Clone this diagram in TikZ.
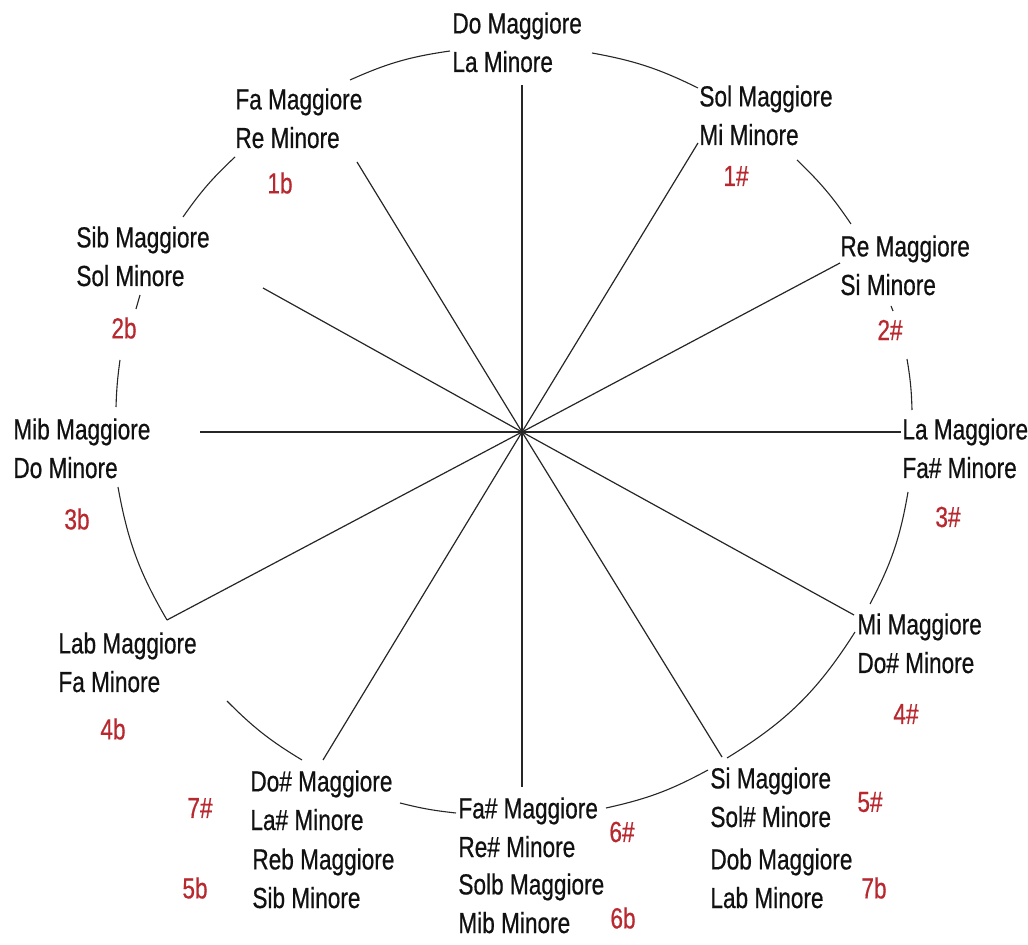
\documentclass[tikz,border=0pt]{standalone}
\usepackage{fontspec}
\setmainfont{Liberation Sans}[FakeStretch=0.78,FakeBold=0.6]
\usepackage{tikz}
\definecolor{keyred}{HTML}{B8282F}
\definecolor{keyink}{HTML}{111111}

\begin{document}
\begin{tikzpicture}[x=0.5pt,y=-0.5pt,font=\fontsize{14.5}{19.3}\selectfont]

\tikzset{
k/.style={anchor=base west,inner sep=0pt,align=left,text=keyink},
n/.style={inner sep=0pt,text=keyred},
s/.style={line width=0.6pt,draw=black!85},
r/.style={line width=0.55pt,draw=black!85}
}

\useasboundingbox (0,0) rectangle (1028,945);

% centro
\coordinate (c) at (522,432);

% tonalita (base = ultima riga)
\node[k] (do) at (452,72) {Do Maggiore\\La Minore};
\node[k] (sol) at (699,145) {Sol Maggiore\\Mi Minore};
\node[k] (re) at (840,295) {Re Maggiore\\Si Minore};
\node[k] (la) at (902,478) {La Maggiore\\Fa\# Minore};
\node[k] (mi) at (857,673) {Mi Maggiore\\Do\# Minore};
\node[k] (si) at (710,827) {Si Maggiore\\Sol\# Minore};
\node[k] (dob) at (710,908) {Dob Maggiore\\Lab Minore};
\node[k] (fad) at (458,857) {Fa\# Maggiore\\Re\# Minore};
\node[k] (solb) at (458,933) {Solb Maggiore\\Mib Minore};
\node[k] (dod) at (250,830) {Do\# Maggiore\\La\# Minore};
\node[k] (reb) at (252,908) {Reb Maggiore\\Sib Minore};
\node[k] (lab) at (58,692) {Lab Maggiore\\Fa Minore};
\node[k] (mib) at (13,478) {Mib Maggiore\\Do Minore};
\node[k] (sib) at (76,286) {Sib Maggiore\\Sol Minore};
\node[k] (fa) at (235,148) {Fa Maggiore\\Re Minore};

% alterazioni
\node[n] (n1d) at (736,176) {1\#};
\node[n] (n2d) at (890,330) {2\#};
\node[n] (n3d) at (948,517) {3\#};
\node[n] (n4d) at (906,714) {4\#};
\node[n] (n5d) at (870,802) {5\#};
\node[n] (n6d) at (622,832) {6\#};
\node[n] (n7d) at (200,808) {7\#};
\node[n] (n1b) at (280,183) {1b};
\node[n] (n2b) at (124,328) {2b};
\node[n] (n3b) at (77,519) {3b};
\node[n] (n4b) at (113,729) {4b};
\node[n] (n5b) at (195,888) {5b};
\node[n] (n6b) at (623,918) {6b};
\node[n] (n7b) at (874,888) {7b};

% raggi
\coordinate (sDo) at (522,85);
\coordinate (sSol) at (698,143);
\coordinate (sRe) at (840,263);
\coordinate (sLa) at (901,432);
\coordinate (sMi) at (854,615);
\coordinate (sSi) at (722,757);
\coordinate (sFad) at (522,787);
\coordinate (sDod) at (323,760);
\coordinate (sLab) at (167,620);
\coordinate (sMib) at (200,432);
\coordinate (sSib) at (263,288);
\coordinate (sFa) at (357,162);

\foreach \p in {sDo,sSol,sRe,sLa,sMi,sSi,sFad,sDod,sLab,sMib,sSib,sFa}
  \draw[s] (c) -- (\p);

% cerchio
\coordinate (r1a) at (350,80);   \coordinate (r1b) at (450,51);
\coordinate (r2a) at (592,53);   \coordinate (r2b) at (698,88);
\coordinate (r3a) at (797,160);  \coordinate (r3b) at (851,224);
\coordinate (r4a) at (891,306);  \coordinate (r4b) at (893,311);
\coordinate (r5a) at (907,359);  \coordinate (r5b) at (912,410);
\coordinate (r6a) at (908,492);  \coordinate (r6b) at (870,604);
\coordinate (r7a) at (855,632);  \coordinate (r7b) at (727,758);
\coordinate (r8a) at (708,770);  \coordinate (r8b) at (606,808);
\coordinate (r9a) at (456,813);  \coordinate (r9b) at (400,803);
\coordinate (r10a) at (302,760); \coordinate (r10b) at (227,701);
\coordinate (r11b) at (118,487);
\coordinate (r12a) at (116,407); \coordinate (r12b) at (120,360);
\coordinate (r13a) at (136,309); \coordinate (r13b) at (140,295);
\coordinate (r14a) at (183,217); \coordinate (r14b) at (235,157);

\foreach \a/\b/\k in {r1a/r1b/8,r2a/r2b/8,r3a/r3b/6,r4a/r4b/0,r5a/r5b/4,
  r6a/r6b/9,r7a/r7b/13,r8a/r8b/8,r9a/r9b/4,r10a/r10b/7,sLab/r11b/10,
  r12a/r12b/3,r13a/r13b/0,r14a/r14b/6}
  \draw[r] (\a) to[bend left=\k] (\b);

\end{tikzpicture}
\end{document}
